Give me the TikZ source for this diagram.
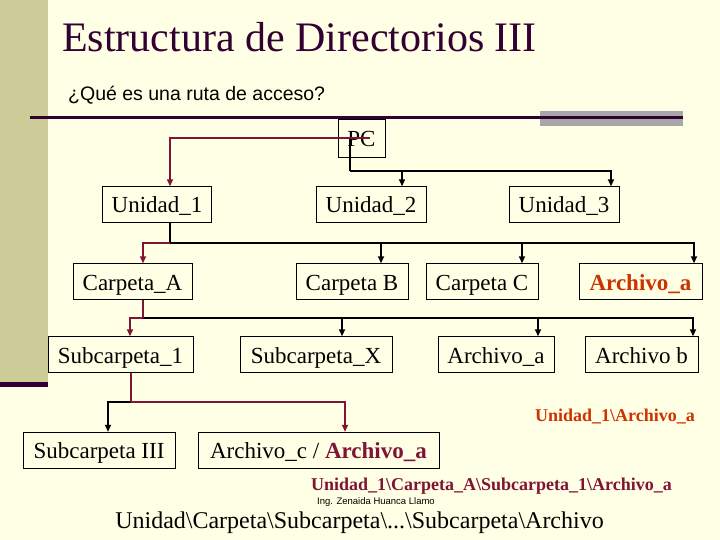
\documentclass[tikz,border=0pt]{standalone}
\usepackage{fontspec}
\setmainfont{Liberation Serif}
\newfontfamily\arialfont{Liberation Sans}
\usetikzlibrary{arrows.meta}
\usetikzlibrary{positioning}

\definecolor{slidebg}{RGB}{255,255,229}
\definecolor{sidebar}{RGB}{204,204,153}
\definecolor{plum}{RGB}{51,0,51}
\definecolor{bargray}{RGB}{168,168,168}
\definecolor{pathred}{RGB}{128,20,52}
\definecolor{fileorange}{RGB}{204,51,0}

\tikzset{
  dirbox/.style={draw=black,thin,inner sep=0pt,minimum height=36pt,text height=19pt,text depth=2pt,font=\fontsize{23}{26}\selectfont},
  bus/.style={draw=black,line width=2.2pt},
  redbus/.style={draw=pathred,line width=2.8pt},
  tip/.style={-{Triangle[length=7pt,width=6pt]}}
}

\begin{document}
\begin{tikzpicture}[x=1pt,y=-1pt]
\fill[slidebg] (0,0) rectangle (720,540);
\fill[sidebar] (0,0) rectangle (48,382);
\fill[plum] (0,382) rectangle (48,387);
\fill[bargray] (540,111) rectangle (683,126);
\draw[plum,line width=3pt] (30,118) -- (683,118);

\node[anchor=base west,text=plum,font=\fontsize{42}{46}\selectfont,inner sep=0pt] (title) at (62,52) {Estructura de Directorios III};
\node[anchor=base west,font=\arialfont\fontsize{19.5}{22}\selectfont,inner sep=0pt] (question) at (68,101) {¿Qué es una ruta de acceso?};

\node[dirbox,minimum width=47pt,minimum height=38pt] (pc) at (361.5,138) {PC};
\node[dirbox,minimum width=109pt] (u1) at (157,204.5) {Unidad\_1};
\node[dirbox,minimum width=110pt] (u2) at (371,204.5) {Unidad\_2};
\node[dirbox,minimum width=110pt] (u3) at (564,204.5) {Unidad\_3};

\node[dirbox,minimum width=119pt] (ca) at (132.5,281.5) {Carpeta\_A};
\node[dirbox,minimum width=112pt] (cb) at (352,281.5) {Carpeta B};
\node[dirbox,minimum width=112pt] (cc) at (482,281.5) {Carpeta C};
\node[dirbox,minimum width=123pt,text=fileorange,font=\fontsize{23}{26}\selectfont\bfseries] (fa) at (640.5,281.5) {Archivo\_a};

\node[dirbox,minimum width=145pt] (s1) at (120.5,354.5) {Subcarpeta\_1};
\node[dirbox,minimum width=152pt] (sx) at (316,354.5) {Subcarpeta\_X};
\node[dirbox,minimum width=116pt] (fa2) at (496,354.5) {Archivo\_a};
\node[dirbox,minimum width=113pt] (fb) at (641.5,354.5) {Archivo b};

\node[dirbox,minimum width=152pt] (s3) at (99,450) {Subcarpeta III};
\node[dirbox,minimum width=241pt] (fc) at (318.5,450) {Archivo\_c / \textcolor{pathred}{\bfseries Archivo\_a}};

\coordinate (j1) at (350,171);
\coordinate (j2) at (170,243);
\coordinate (j3) at (143,318);
\coordinate (j4) at (131,402);

\draw[bus] ([xshift=-11.5pt]pc.center) -- (j1);
\draw[bus,tip] (j1) -| ([xshift=31pt]u2.north);
\draw[bus,tip] (j1) -| ([xshift=47pt]u3.north);
\draw[redbus,tip] ([xshift=8pt]pc.center) -| ([xshift=13pt]u1.north);

\draw[bus] ([xshift=13pt]u1.south) -- (j2);
\draw[bus,tip] (j2) -| ([xshift=29pt]cb.north);
\draw[bus,tip] (j2) -| ([xshift=40pt]cc.north);
\draw[bus,tip] (j2) -| ([xshift=53.5pt]fa.north);
\draw[redbus,tip] (j2) -| ([xshift=10.5pt]ca.north);

\draw[bus,tip] (j3) -| ([xshift=26pt]sx.north);
\draw[bus,tip] (j3) -| ([xshift=42pt]fa2.north);
\draw[bus,tip] (j3) -| ([xshift=51.5pt]fb.north);
\draw[redbus] ([xshift=10.5pt]ca.south) -- (j3);
\draw[redbus,tip] (j3) -| ([xshift=9.5pt]s1.north);

\draw[bus,tip] (j4) -| ([xshift=9pt]s3.north);
\draw[redbus] ([xshift=10.5pt]s1.south) -- (j4);
\draw[redbus,tip] (j4) -| ([xshift=26.5pt]fc.north);

\node[text=fileorange,font=\fontsize{18}{20}\selectfont\bfseries] (path1) at (615,417) {Unidad\_1\textbackslash Archivo\_a};
\node[text=pathred,font=\fontsize{18}{20}\selectfont\bfseries] (path2) at (491.5,486) {Unidad\_1\textbackslash Carpeta\_A\textbackslash Subcarpeta\_1\textbackslash Archivo\_a};
\node[anchor=west,inner sep=0pt,font=\arialfont\fontsize{9.5}{11}\selectfont] (author) at (317,502) {Ing. Zenaida Huanca Llamo};
\node[font=\fontsize{24}{28}\selectfont] (general) at (359.5,523) {Unidad\textbackslash Carpeta\textbackslash Subcarpeta\textbackslash ...\textbackslash Subcarpeta\textbackslash Archivo};
\end{tikzpicture}
\end{document}
